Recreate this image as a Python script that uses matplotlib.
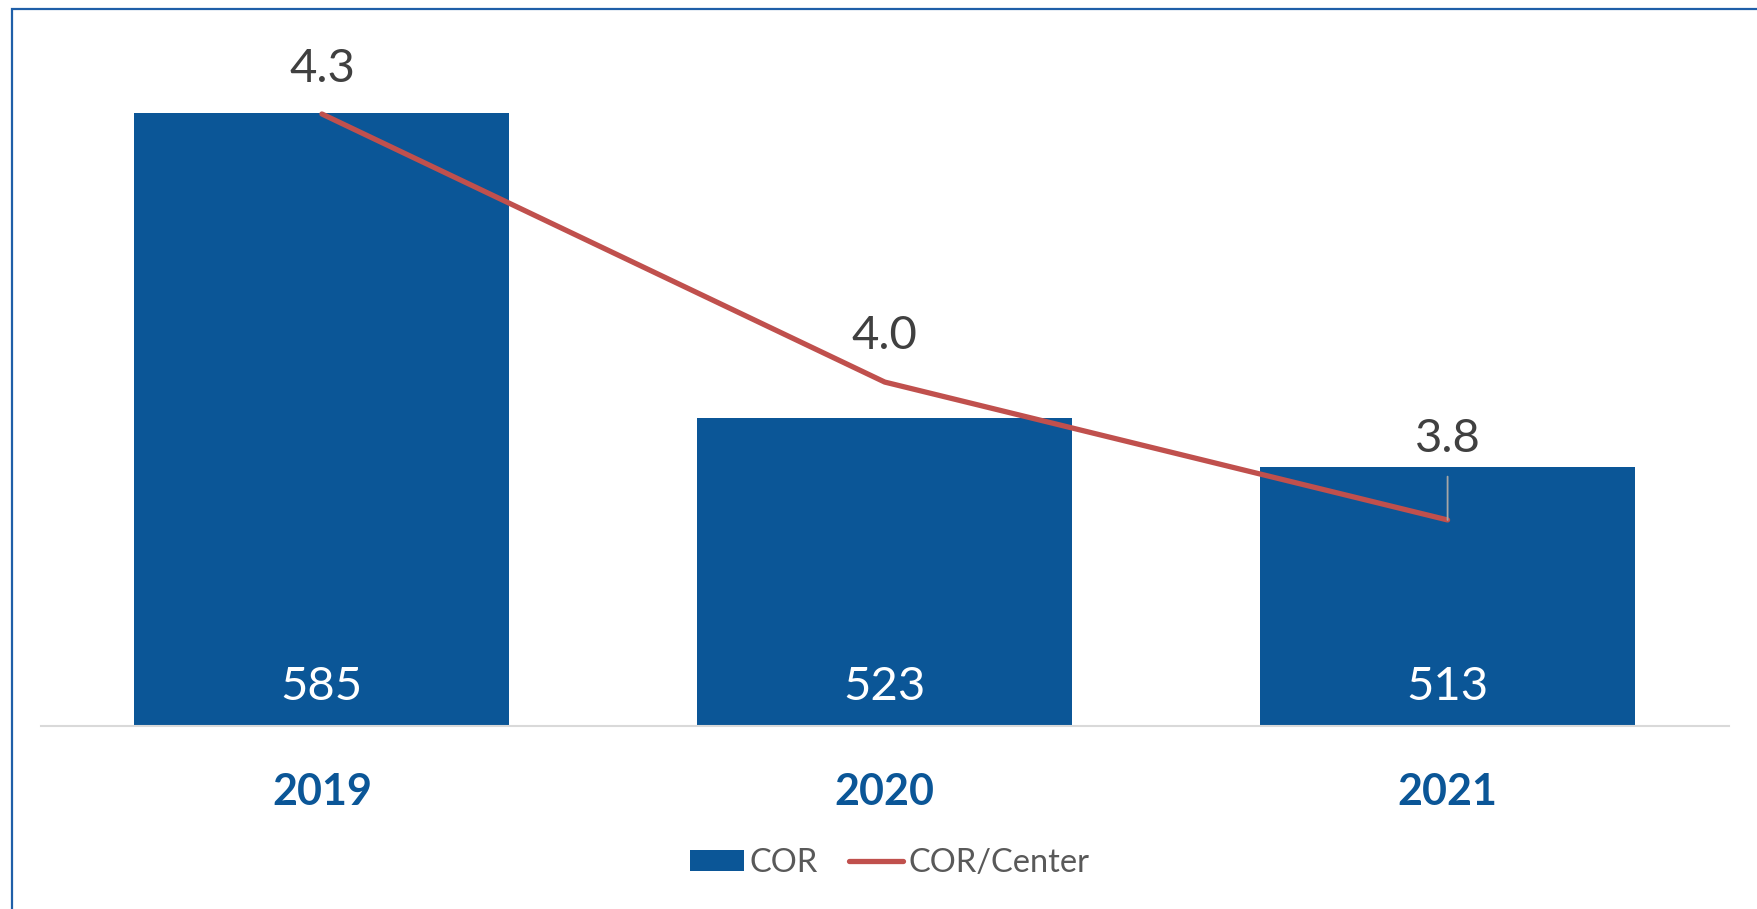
import matplotlib
matplotlib.use("Agg")
import matplotlib.pyplot as plt
from matplotlib.patches import Rectangle, Patch
from matplotlib.lines import Line2D

years = ["2019", "2020", "2021"]
cor = [585, 523, 513]
cor_per_center = [4.33, 3.98, 3.80]

BLUE = "#0B5697"
RED = "#C0504D"
DARK = "#404040"

plt.rcParams['font.family'] = ['Lato', 'DejaVu Sans']

W, H = 1757, 909
fig = plt.figure(figsize=(W / 100, H / 100), dpi=100)
ax = fig.add_axes([40.5 / W, (H - 726) / H, (1729 - 40.5) / W, (726 - 20) / H])
ax2 = ax.twinx()

x = list(range(len(years)))
ax.bar(x, cor, width=0.666, color=BLUE, zorder=2)
ax.set_xlim(-0.5, 2.5)
ax.set_ylim(460.4, 603.9)
ax2.set_ylim(3.531, 4.4527)

ax2.plot(x, cor_per_center, color=RED, lw=3.8, solid_capstyle="round",
         solid_joinstyle="round", zorder=3)

# bar values sit near the base of each bar
for i, v in enumerate(cor):
    ax.annotate(f"{v}", xy=(i, 0), xycoords=("data", "axes fraction"),
                xytext=(0, 26), textcoords="offset pixels", ha="center",
                va="baseline", color="white", fontsize=34)

# line values above each point, the last one with a leader line
offsets = [32, 33, 68]
for i, v in enumerate(cor_per_center):
    arrow = None
    if i == 2:
        arrow = dict(arrowstyle="-", color="#A6A6A6", lw=1.3, shrinkA=10, shrinkB=0)
    ax2.annotate(f"{v:.1f}", xy=(i, v), xytext=(0, offsets[i]),
                 textcoords="offset pixels", ha="center", va="baseline",
                 color=DARK, fontsize=34, arrowprops=arrow, zorder=4)

ax.set_xticks(x)
ax.set_xticklabels(years, fontsize=31, fontweight="bold", color=BLUE)
ax.tick_params(axis="x", length=0, pad=33)
ax.set_yticks([])
ax2.set_yticks([])
for a in (ax, ax2):
    for s in ("top", "left", "right", "bottom"):
        a.spines[s].set_visible(False)
ax.spines["bottom"].set_visible(True)
ax.spines["bottom"].set_color("#D9D9D9")
ax.spines["bottom"].set_linewidth(1.5)

handles = [Patch(facecolor=BLUE, label="COR"),
           Line2D([], [], color=RED, lw=3.8, solid_capstyle="round", label="COR/Center")]
fig.legend(handles=handles, loc="center", bbox_to_anchor=(890 / W, (H - 863) / H),
           ncol=2, frameon=False, fontsize=23.5, handlelength=1.65, handleheight=0.65,
           handletextpad=0.17, columnspacing=0.95, labelcolor="#595959")

# outer frame
fig.add_artist(Rectangle((12 / W, -0.05), 1.2, (H - 9) / H + 0.05,
                         transform=fig.transFigure, fill=False,
                         edgecolor="#1F5FA8", lw=1.6))

fig.savefig("out.png", dpi=100)
